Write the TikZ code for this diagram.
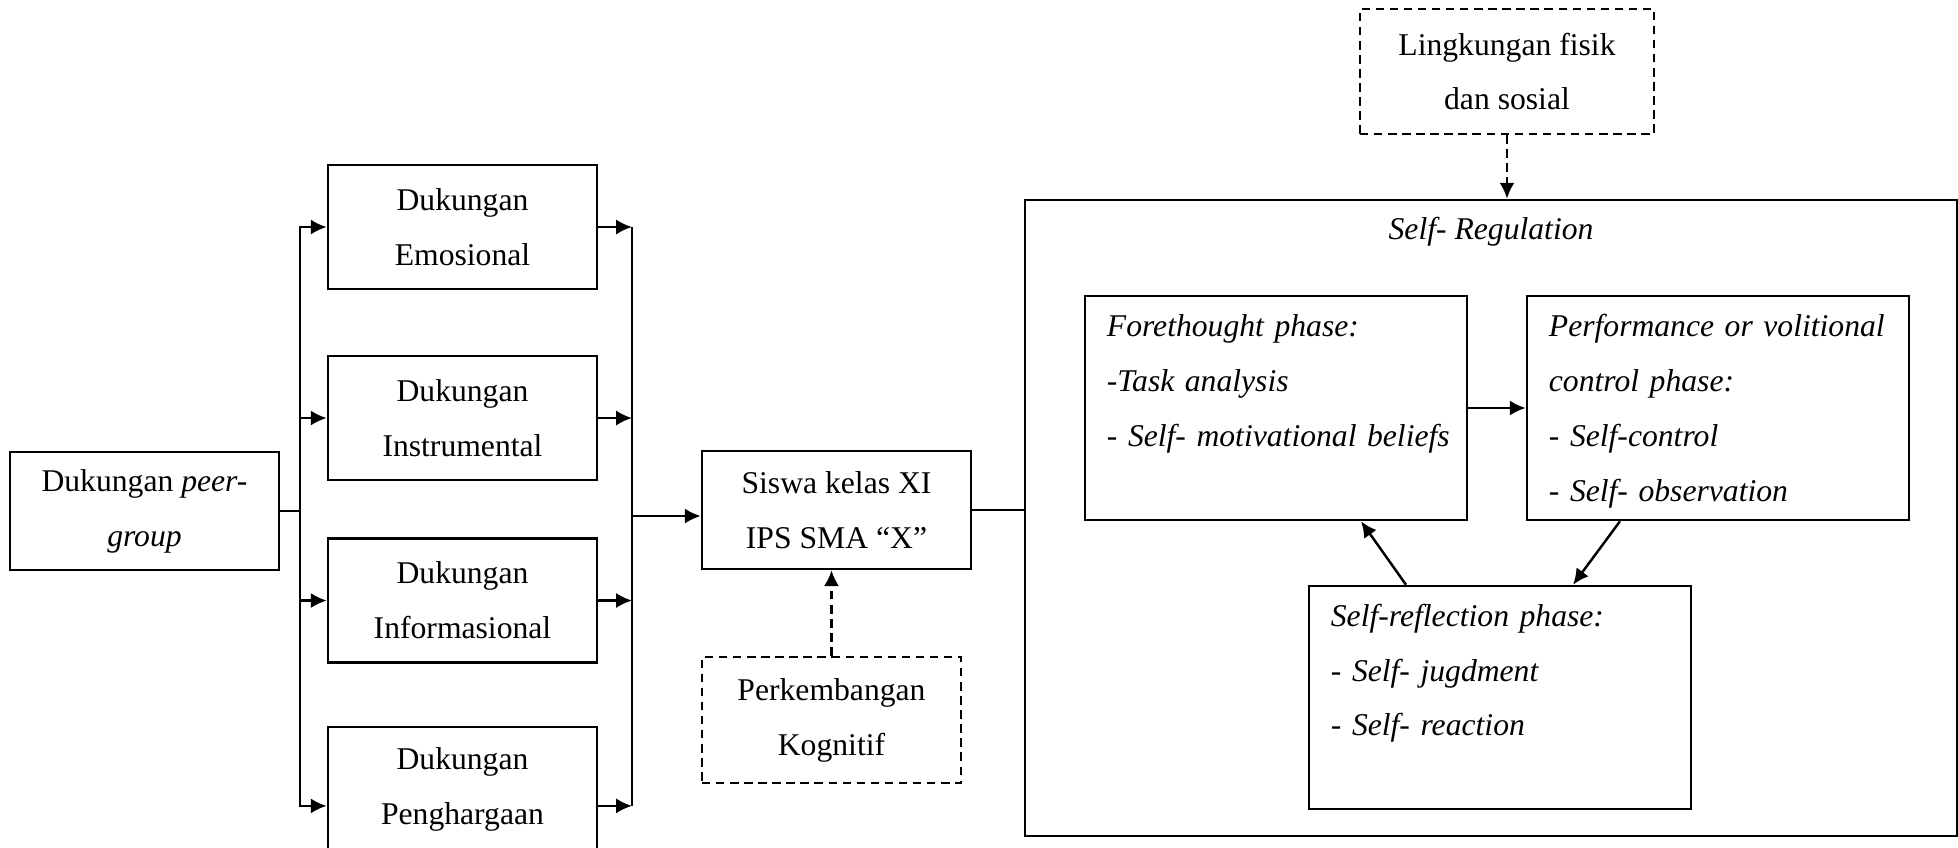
\documentclass[tikz,border=0pt]{standalone}
\usepackage{fontspec}
\setmainfont{Liberation Serif}
\usetikzlibrary{arrows.meta}

\begin{document}
\begin{tikzpicture}[x=0.01cm, y=-0.01cm, line width=0.7pt,
    >={Latex[length=4.5pt,width=4.3pt]},
    every node/.style={font=\fontsize{9pt}{15.6pt}\selectfont},
    kotak/.style={draw, align=center, inner sep=0pt,
        minimum width=2.69cm, minimum height=1.24cm},
    putus/.style={kotak, dash pattern=on 2.4pt off 1.6pt},
    garisputus/.style={dash pattern=on 2.4pt off 1.6pt},
    fase/.style={draw, align=left, text width=3.38cm,
        inner xsep=0.22cm, inner ysep=0pt, minimum height=2.24cm,
        font=\fontsize{9pt}{15.6pt}\selectfont\itshape,
        execute at begin node={\strut}, execute at end node={\strut}}]
    \useasboundingbox (0,0) rectangle (1958,847);
    % dukungan peer-group
    \node[kotak, minimum height=1.18cm] (peer) at (144.5,511) {Dukungan \textit{peer-}\\\textit{group}};
    \node[kotak] (emo) at (462.5,227) {Dukungan\\Emosional};
    \node[kotak] (ins) at (462.5,418) {Dukungan\\Instrumental};
    \node[kotak] (inf) at (462.5,600.5) {Dukungan\\Informasional};
    \node[kotak] (har) at (462.5,789) {Dukungan\\Penghargaan};
    \node[kotak, minimum height=1.18cm] (siswa) at (836.5,510) {Siswa kelas XI\\IPS SMA ``X''};
    \node[putus, minimum width=2.59cm, minimum height=1.26cm] (kog) at (831.5,720) {Perkembangan\\Kognitif};
    \node[putus, minimum width=2.94cm, minimum height=1.25cm] (ling) at (1507,71.5) {Lingkungan fisik\\dan sosial};
    % self-regulation
    \node[draw, inner sep=0pt, minimum width=9.32cm, minimum height=6.36cm] (sr) at (1491,518) {};
    \node (judul) at (1491,232) {\textit{Self- Regulation}};
    \node[fase] (fore) at (1276,408) {Forethought phase:\\-Task analysis\\\mbox{- Self- motivational beliefs}\\};
    \node[fase] (perf) at (1718,408) {\makebox[\linewidth][s]{Performance or volitional}\\control phase:\\- Self-control\\- Self- observation};
    \node[fase, minimum height=2.23cm] (refl) at (1500,697.5) {Self-reflection phase:\\- Self- jugdment\\- Self- reaction\\};
    % connectors
    \coordinate (kiri) at (300,511);
    \coordinate (kanan) at (632,516);
    \draw (peer.east) -- (kiri);
    \foreach \b in {emo,ins,inf}
        \draw[->] (kiri) |- (\b.west);
    \draw[->] (kiri) |- ([yshift=-4.8pt]har.west);
    \foreach \b in {emo,ins,inf}
        \draw[->] (\b.east) -- (\b.east -| kanan);
    \draw[->] ([yshift=-4.8pt]har.east) -- ([yshift=-4.8pt]har.east -| kanan);
    \draw (emo.east -| kanan) -- ([yshift=-4.8pt]har.east -| kanan);
    \draw[->] (kanan) -- (kanan -| siswa.west);
    \draw (siswa.east) -- (siswa.east -| sr.west);
    \draw[->, garisputus] (kog.north) -- (kog.north |- siswa.south);
    \draw[->, garisputus] (ling.south) -- (ling.south |- sr.north);
    \draw[->] (fore.east) -- (perf.west);
    \draw[->] ([xshift=-0.98cm]perf.south) -- ([xshift=0.73cm]refl.north);
    \draw[->] ([xshift=-0.94cm]refl.north) -- ([xshift=0.85cm]fore.south);
\end{tikzpicture}
\end{document}
